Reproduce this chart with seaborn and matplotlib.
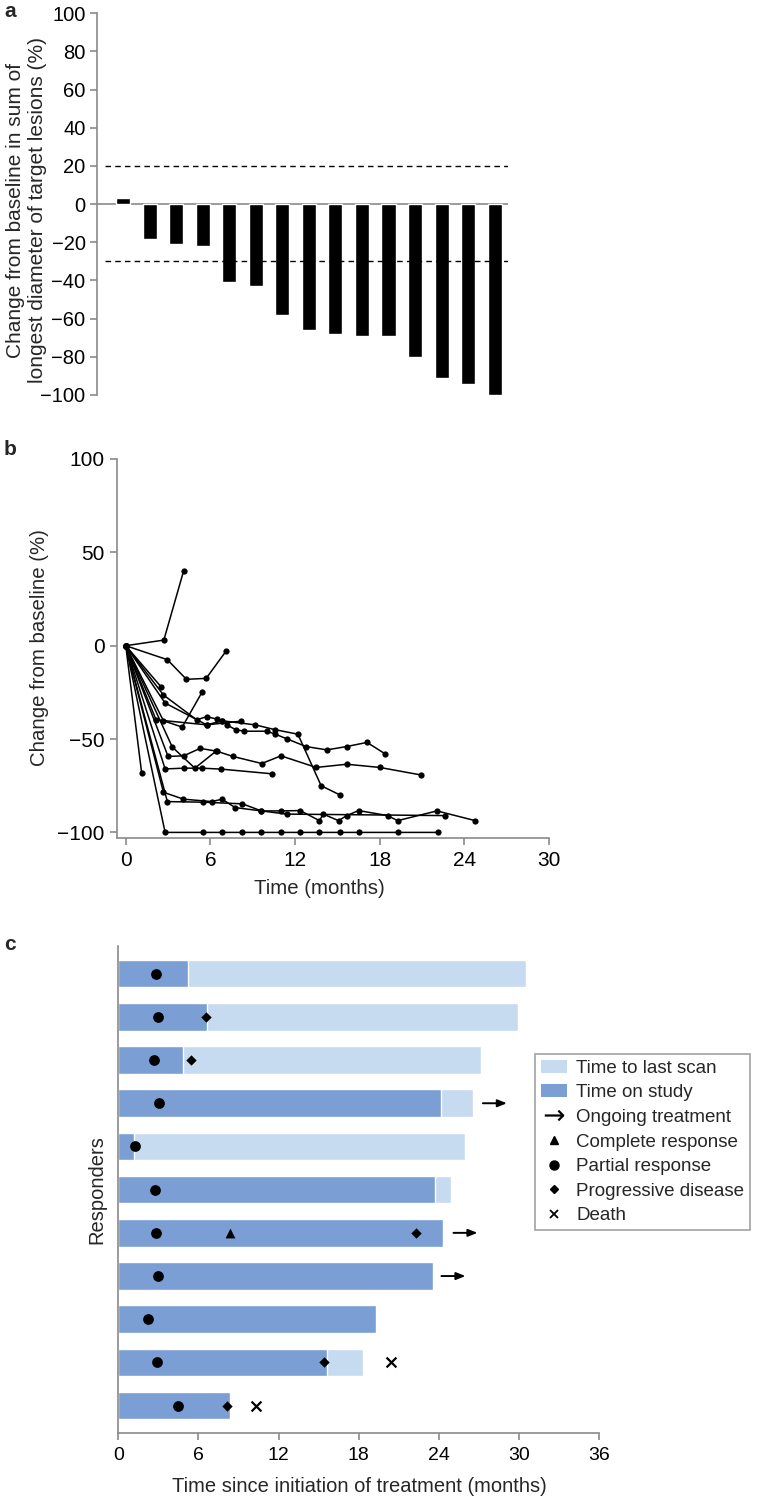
import numpy as np
import pandas as pd
import seaborn as sns
import matplotlib
matplotlib.use("Agg")
import matplotlib.pyplot as plt
from matplotlib.patches import Patch
from matplotlib.lines import Line2D


# panel a: best change per patient (%)
best_change = [3, -18, -21, -22, -41, -43, -58, -66, -68, -69, -69, -80, -91, -94, -100]

# panel b: one list per patient, months and change from baseline (%)
trace_months = [
    [0, 2.7, 4.1],
    [0, 2.95, 4.3, 5.7, 7.1],
    [0, 2.5],
    [0, 2.67, 5.03, 5.74, 6.45, 6.83, 7.16, 7.8, 8.4, 10.0, 10.6, 11.46, 12.77, 14.25, 15.67, 17.1, 18.4],
    [0, 2.79, 5.74, 6.83, 9.17, 10.6, 12.2, 13.85, 15.2],
    [0, 2.15, 5.74, 8.2],
    [0, 2.67, 4.0, 5.4],
    [0, 3.3, 4.9, 6.4],
    [0, 3.0, 4.1, 5.27, 6.45, 7.59, 9.64, 11.0, 13.5, 15.67, 18.0, 20.9],
    [0, 2.79, 4.13, 5.39, 6.76, 10.35],
    [0, 1.13],
    [0, 2.67, 4.09, 6.1, 6.83, 7.75, 9.62, 11.41, 22.65],
    [0, 2.95, 5.46, 8.27, 9.62, 10.99, 12.36, 13.73, 14.0, 15.08, 15.67, 16.5, 18.56, 19.27, 22.06, 24.77],
    [0, 2.79, 5.46, 6.85, 8.27, 9.62, 11.0, 12.36, 13.73, 15.2, 16.5, 19.3, 22.1],
]
trace_change = [
    [0, 3, 40],
    [0, -7.5, -18, -17.5, -3],
    [0, -22],
    [0, -26.4, -39.7, -38, -39.3, -40.2, -42.4, -45, -45.8, -45.8, -47.4, -50, -54, -55.8, -54, -51.8, -58],
    [0, -30.7, -42.4, -40.2, -42.4, -45, -47.4, -75, -80],
    [0, -39.7, -42.4, -40.4],
    [0, -40.2, -43.6, -25],
    [0, -54.3, -65.6, -56.5],
    [0, -59.3, -59, -55, -56.5, -59.3, -63.1, -59, -65.2, -63.5, -65.2, -69.2],
    [0, -66, -65.6, -65.6, -66.1, -68.6],
    [0, -68.3],
    [0, -78.5, -82.2, -83.5, -82.2, -86.7, -88.5, -90.2, -91],
    [0, -83.5, -83.8, -84.7, -88.5, -88.5, -88.3, -93.7, -90.2, -93.7, -91, -88.3, -91, -93.7, -88.5, -93.7],
    [0, -100, -100, -100, -100, -100, -100, -100, -100, -100, -100, -100, -100],
]

# panel c: responders, top to bottom (months)
responders = [f"R{i}" for i in range(1, 12)]
last_scan = [30.5, 29.9, 27.2, 26.55, 26.0, 24.9, 24.3, 23.6, 19.3, 18.35, 8.4]
on_study = [5.25, 6.67, 4.85, 24.2, 1.15, 23.7, 24.3, 23.6, 19.3, 15.6, 8.4]
partial_resp = [2.8, 2.95, 2.7, 3.05, 1.25, 2.75, 2.8, 3.0, 2.2, 2.87, 4.47]
complete_rows, complete_t = [6], [8.37]
progress_rows, progress_t = [1, 2, 6, 9, 10], [6.57, 5.47, 22.3, 15.38, 8.15]
death_rows, death_t = [9, 10], [20.4, 10.3]
ongoing_rows, ongoing_t = [3, 6, 7], [27.3, 25.1, 24.2]

light_blue = "#c6daf0"
dark_blue = "#7b9fd4"
grey = "#8a8a8a"

sns.set_theme(style="white")
plt.rcParams["font.family"] = ["Liberation Sans", "DejaVu Sans"]

W, H = 766, 1500
fig = plt.figure(figsize=(W / 100, H / 100), dpi=100)


def box(l, t, r, b):
    return [l / W, 1 - b / H, (r - l) / W, (b - t) / H]


def style_axis(ax, size, pad=3):
    for s in ["top", "right"]:
        ax.spines[s].set_visible(False)
    for s in ["left", "bottom"]:
        ax.spines[s].set_color(grey)
        ax.spines[s].set_linewidth(1.2)
    ax.tick_params(left=True, bottom=True, direction="out", length=5,
                   width=1.2, color=grey, labelsize=size,
                   labelcolor="black", pad=pad)


# ---- a ----
ax_a = fig.add_axes(box(96.7, 13.3, 508, 395))
df_a = pd.DataFrame({"patient": [str(i) for i in range(len(best_change))],
                     "change": best_change})
sns.barplot(df_a, x="patient", y="change", color="black", width=0.53,
            saturation=1, ax=ax_a)
ax_a.set_xlim(-0.99, 14.5)
ax_a.set_ylim(-100, 100)
ax_a.set_yticks(range(-100, 101, 20))
ax_a.set_xticks([])
ax_a.set_xlabel("")
ax_a.set_ylabel("")
style_axis(ax_a, 14.5)
ax_a.tick_params(bottom=False)
ax_a.spines["bottom"].set_visible(False)
ax_a.axhline(0, color=grey, lw=1.2, zorder=0)
ax_a.axhline(20, xmin=0.02, color="black", lw=1, ls=(0, (4, 3)))
ax_a.axhline(-30, xmin=0.02, color="black", lw=1, ls=(0, (4, 3)))
fig.text(27 / W, 1 - 210 / H,
         "Change from baseline in sum of\nlongest diameter of target lesions (%)",
         rotation=90, ha="center", va="center", fontsize=15, linespacing=1.2)

# ---- b ----
ax_b = fig.add_axes(box(117, 459, 549, 838))
rows = []
for pid, (ms, vs) in enumerate(zip(trace_months, trace_change)):
    for m, v in zip(ms, vs):
        rows.append((pid, m, v))
df_b = pd.DataFrame(rows, columns=["pid", "month", "change"])
sns.lineplot(df_b, x="month", y="change", units="pid", estimator=None,
             color="black", lw=1.1, marker="o", markersize=4.5,
             markeredgewidth=0, ax=ax_b)
ax_b.set_xlim(-0.62, 30)
ax_b.set_ylim(-103, 100)
ax_b.set_xticks(range(0, 31, 6))
ax_b.set_yticks([-100, -50, 0, 50, 100])
ax_b.set_xlabel("")
ax_b.set_ylabel("")
style_axis(ax_b, 15, pad=4)
fig.text(40 / W, 1 - 648 / H, "Change from baseline (%)", rotation=90,
         ha="center", va="center", fontsize=14.7)
fig.text(319 / W, 1 - 888 / H, "Time (months)", ha="center", va="center",
         fontsize=14.7)

# ---- c ----
ax_c = fig.add_axes(box(118.3, 946, 599, 1433.3))
df_c = pd.DataFrame({"resp": responders, "last": last_scan, "study": on_study})
sns.barplot(df_c, y="resp", x="last", color=light_blue, saturation=1,
            width=0.64, orient="h", ax=ax_c)
sns.barplot(df_c, y="resp", x="study", color=dark_blue, saturation=1,
            width=0.64, orient="h", ax=ax_c)
sns.scatterplot(x=partial_resp, y=list(range(11)), marker="o", s=60,
                color="black", linewidth=0, ax=ax_c, zorder=5)
sns.scatterplot(x=complete_t, y=complete_rows, marker="^", s=50,
                color="black", linewidth=0, ax=ax_c, zorder=5)
sns.scatterplot(x=progress_t, y=progress_rows, marker="D", s=28,
                color="black", linewidth=0, ax=ax_c, zorder=5)
sns.scatterplot(x=death_t, y=death_rows, marker="x", s=50,
                color="black", linewidth=1.6, ax=ax_c, zorder=5)
for r, t in zip(ongoing_rows, ongoing_t):
    ax_c.annotate("", xy=(t + 1.8, r), xytext=(t, r),
                  arrowprops=dict(arrowstyle="-|>,head_length=0.45,head_width=0.18",
                                  color="black", lw=1.4, shrinkA=0, shrinkB=0))
ax_c.set_xlim(0, 36)
ax_c.set_ylim(10.64, -0.64)
ax_c.set_xticks(range(0, 37, 6))
ax_c.set_yticks([])
ax_c.set_xlabel("")
ax_c.set_ylabel("")
style_axis(ax_c, 14, pad=5)
ax_c.tick_params(left=False)
fig.text(359 / W, 1 - 1487 / H, "Time since initiation of treatment (months)",
         ha="center", va="center", fontsize=14.5)
fig.text(97 / W, 1 - 1190 / H, "Responders", rotation=90, ha="center",
         va="center", fontsize=14.5)

handles = [
    Patch(facecolor=light_blue, edgecolor="none"),
    Patch(facecolor=dark_blue, edgecolor="none"),
    Line2D([], [], ls="", marker=r"$\rightarrow$", color="black",
           markersize=14, markeredgewidth=0),
    Line2D([], [], ls="", marker="^", color="black", markersize=6),
    Line2D([], [], ls="", marker="o", color="black", markersize=6.5),
    Line2D([], [], ls="", marker="D", color="black", markersize=4.5),
    Line2D([], [], ls="", marker="x", color="black", markersize=6, mew=1.3),
]
labels = ["Time to last scan", "Time on study", "Ongoing treatment",
          "Complete response", "Partial response", "Progressive disease", "Death"]
leg = fig.legend(handles, labels, loc="upper left",
                 bbox_to_anchor=(535 / W, 1 - 1054 / H), fontsize=13.5,
                 frameon=True, fancybox=False, edgecolor=grey,
                 handlelength=1.4, handletextpad=0.5, labelspacing=0.4,
                 borderpad=0.3, borderaxespad=0)
leg.get_frame().set_linewidth(1.2)

# panel letters
fig.text(4 / W, 1 - 2 / H, "a", fontsize=15, fontweight="bold", va="top")
fig.text(4 / W, 1 - 440 / H, "b", fontsize=15, fontweight="bold", va="top")
fig.text(4 / W, 1 - 935 / H, "c", fontsize=15, fontweight="bold", va="top")

fig.savefig("out.png", dpi=100)
